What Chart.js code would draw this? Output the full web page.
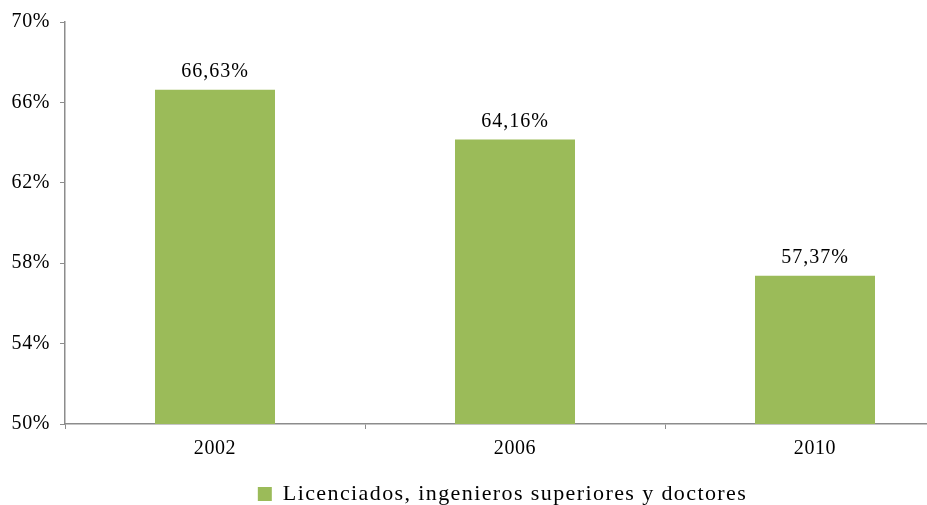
<!DOCTYPE html>
<html>
<head>
<meta charset="utf-8">
<script src="https://cdn.jsdelivr.net/npm/chart.js@4"></script>
<style>
  html, body { margin: 0; padding: 0; background: #fff; overflow: hidden; }
  #wrap { width: 1000px; height: 505px; }
</style>
</head>
<body>
<div id="wrap"><canvas id="myChart" width="1000" height="505"></canvas></div>
<script>
var years = ['2002', '2006', '2010'];
var licenciados = [66.63, 64.16, 57.37];
var yTicks = [50, 54, 58, 62, 66, 70];

var green = '#9BBB59';
var axisGray = '#8C8C8C';
var font = 'Liberation Serif, Times New Roman, serif';

// the source text is drawn a little wide, so space the letters out
var spacing = {
  id: 'spacing',
  afterInit: function (chart) {
    var lg = chart.legend;
    if (!lg) return;
    var fit = lg.fit, draw = lg.draw;
    lg.fit = function () {
      var c = chart.ctx, old = c.letterSpacing;
      c.letterSpacing = '1.4px';
      var r = fit.apply(this, arguments);
      c.letterSpacing = old;
      return r;
    };
    lg.draw = function () {
      var c = chart.ctx, old = c.letterSpacing;
      c.save();
      c.letterSpacing = '1.4px';
      c.translate(20, 0); // nudge the legend to sit where the original one is
      draw.apply(this, arguments);
      c.restore();
      c.letterSpacing = old;
    };
  },
  beforeLayout: function (chart) { chart.ctx.letterSpacing = '0.6px'; },
  beforeDraw: function (chart) { chart.ctx.letterSpacing = '0.6px'; }
};

// values written over each bar, with a decimal comma
var barLabels = {
  id: 'barLabels',
  afterDatasetsDraw: function (chart) {
    var ctx = chart.ctx;
    var meta = chart.getDatasetMeta(0);
    ctx.save();
    ctx.letterSpacing = '1px';
    ctx.fillStyle = '#000';
    ctx.font = '20px ' + font;
    ctx.textAlign = 'center';
    ctx.textBaseline = 'bottom';
    meta.data.forEach(function (bar, i) {
      var txt = licenciados[i].toFixed(2).replace('.', ',') + '%';
      ctx.fillText(txt, bar.x, bar.y - 8);
    });
    ctx.restore();
  }
};

var ctx = document.getElementById('myChart').getContext('2d');
var chart = new Chart(ctx, {
  type: 'bar',
  data: {
    labels: years,
    datasets: [{
      label: 'Licenciados, ingenieros superiores y doctores',
      data: licenciados,
      backgroundColor: green,
      barPercentage: 0.4,
      categoryPercentage: 1
    }]
  },
  options: {
    responsive: false,
    animation: false,
    layout: { padding: { top: 21, right: 35, left: 0, bottom: -10 } },
    plugins: {
      tooltip: { enabled: false },
      legend: {
        position: 'bottom',
        labels: {
          color: '#000',
          font: { family: font, size: 22 },
          boxWidth: 14,
          boxHeight: 14,
          padding: 6
        }
      }
    },
    scales: {
      x: {
        offset: true,
        grid: {
          display: true,
          offset: true,
          drawOnChartArea: false,
          tickLength: 5,
          color: axisGray
        },
        border: { color: axisGray, width: 1.5 },
        ticks: { color: '#000', font: { family: font, size: 20 }, padding: 8 },
        afterFit: function (scale) { scale.height = 53; }
      },
      y: {
        min: 50,
        max: 70,
        afterBuildTicks: function (scale) {
          scale.ticks = yTicks.map(function (v) { return { value: v }; });
        },
        grid: {
          display: true,
          drawOnChartArea: false,
          tickLength: 5,
          color: axisGray
        },
        border: { color: axisGray, width: 1.5 },
        ticks: {
          color: '#000',
          font: { family: font, size: 20 },
          padding: 10,
          callback: function (v) { return v + '%'; }
        },
        afterFit: function (scale) { scale.width = 65; }
      }
    }
  },
  plugins: [spacing, barLabels]
});
</script>
</body>
</html>
